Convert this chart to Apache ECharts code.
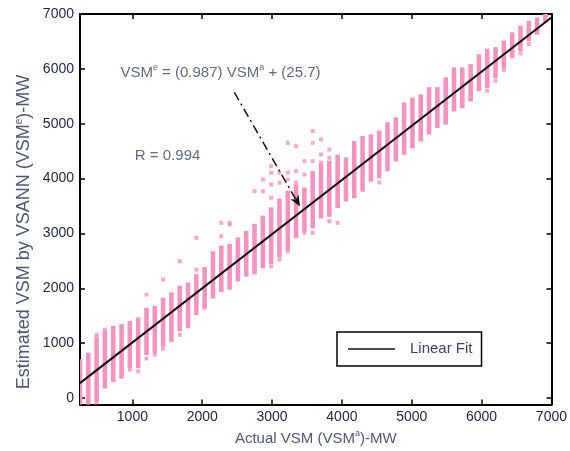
<!DOCTYPE html>
<html>
<head>
<meta charset="utf-8">
<script src="https://cdn.jsdelivr.net/npm/echarts@6/dist/echarts.min.js"></script>
<style>
html,body{margin:0;padding:0;background:#fff;}
#chart{width:570px;height:451px;}
</style>
</head>
<body>
<div id="chart"></div>
<script>
// ---- data ----
// x positions of the columns of points (Actual VSM, MW)
const colX = [250, 369, 488, 607, 726, 845, 964, 1083, 1202, 1321, 1440, 1559, 1678, 1797, 1916, 2035, 2154, 2273, 2392, 2511,
  2630, 2749, 2868, 2987, 3106, 3225, 3344, 3463, 3582, 3701, 3820, 3939, 4058, 4177, 4296, 4415, 4534, 4653, 4772, 4891,
  5010, 5129, 5248, 5367, 5486, 5605, 5724, 5843, 5962, 6081, 6200, 6319, 6438, 6557, 6676, 6795, 6914];
// lower and upper ends of each dense column (Estimated VSM, MW)
const colLow = [-120, -90, -30, 210, 330, 390, 580, 580, 820, 850, 970, 1060, 1250, 1310, 1550, 1670, 1850, 1970, 2010, 2160,
  2250, 2290, 2400, 2480, 2600, 2720, 2950, 3070, 3130, 3310, 3340, 3500, 3620, 3680, 3800, 3980, 4040, 4170, 4350, 4470,
  4590, 4710, 4840, 4960, 5020, 5260, 5320, 5440, 5630, 5690, 5870, 6050, 6230, 6360, 6540, 6660, 6880];
const colHigh = [670, 790, 1060, 1190, 1280, 1310, 1370, 1430, 1610, 1640, 1790, 1890, 2010, 2070, 2220, 2350, 2640, 2740, 2770, 2890,
  3010, 3140, 3290, 3440, 3600, 3740, 3860, 3800, 4100, 4230, 4290, 4400, 4350, 4650, 4740, 4770, 4840, 4990, 5080, 5350,
  5440, 5500, 5630, 5630, 5810, 5990, 5990, 6050, 6230, 6330, 6360, 6480, 6630, 6750, 6840, 6900, 7000];
// isolated points outside the dense columns
const outX = [488, 488, 488, 607, 964, 1083, 1202, 1202, 1321, 1440, 1440, 1678, 1678, 1797, 1916, 1916, 2035,
  2273, 2273, 2392, 2392, 2749, 2868, 2868, 2987, 2987, 2987, 2987, 2987, 3106, 3106, 3106,
  3225, 3225, 3225, 3225, 3344, 3344, 3344, 3344, 3463, 3463, 3463, 3582, 3582, 3582, 3582,
  3701, 3701, 3701, 3820, 3820, 3820, 3939, 4534, 6081, 6200, 6319, 6557, 6676];
const outY = [1155, 1110, -80, 1246, 516, 486, 1885, 720, 790, 2159, 900, 2493, 1150, 1460, 2341, 2920, 1642,
  3193, 2949, 3193, 3162, 3770, 3984, 3770, 4226, 4106, 3892, 3650, 2400, 4106, 3923, 2524,
  3984, 4650, 4111, 2675, 4135, 4590, 3929, 3011, 4318, 4075, 3011, 4653, 4865, 4318, 3011,
  4440, 4713, 4288, 4380, 4530, 3223, 3193, 3930, 5600, 5780, 5980, 6280, 6453];
// linear fit VSMe = 0.987 VSMa + 25.7, end points
const fitX = [250, 7000];
const fitY = [272, 6935];
// annotation arrow (data coordinates)
const arrowFrom = [2460, 5570];
const arrowTo = [3400, 3490];
// text anchors (data coordinates)
const eqPos = [2261, 5936];
const rPos = [1504, 4422];
// tick labels
const xTicks = [1000, 2000, 3000, 4000, 5000, 6000, 7000];
const yTicks = [0, 1000, 2000, 3000, 4000, 5000, 6000, 7000];

const PINK = '#f593c0';
const TICK_COLOR = '#1c2440';
const TEXT_COLOR = '#3a4560';
const TITLE_COLOR = '#4d5873';
const FONT = 'Liberation Sans, Arial, sans-serif';

const chart = echarts.init(document.getElementById('chart'), null, {renderer: 'canvas'});

const supRich = {
  m: {fontSize: 15, lineHeight: 18, color: TEXT_COLOR, fontFamily: FONT},
  s: {fontSize: 9, lineHeight: 9, verticalAlign: 'top', color: TEXT_COLOR, fontFamily: FONT}
};
const titleRich = {
  m: {fontSize: 15, lineHeight: 18, color: TITLE_COLOR, fontFamily: FONT},
  s: {fontSize: 9, lineHeight: 9, verticalAlign: 'top', color: TITLE_COLOR, fontFamily: FONT}
};
const yTitleRich = {
  m: {fontSize: 18, lineHeight: 20, fill: TITLE_COLOR, fontFamily: FONT},
  s: {fontSize: 10, lineHeight: 10, verticalAlign: 'top', fill: TITLE_COLOR, fontFamily: FONT}
};

const axisCommon = {
  type: 'value',
  axisLine: {show: true, onZero: false, lineStyle: {color: '#000', width: 2}},
  splitLine: {show: false}
};
const plainLabel = v => String(v);

const option = {
  animation: false,
  backgroundColor: '#fff',
  grid: {left: 80, right: 17, top: 14, bottom: 46, containLabel: false},
  legend: {
    left: 337, top: 332,
    padding: [8, 9, 8, 11],
    itemWidth: 47, itemHeight: 1.5,
    borderColor: '#000', borderWidth: 1.5, backgroundColor: '#fff',
    textStyle: {fontSize: 15, color: TEXT_COLOR, fontFamily: FONT, padding: [0, 0, 0, 10], lineHeight: 18},
    data: [{name: 'Linear Fit', icon: 'rect', itemStyle: {color: '#111'}}]
  },
  graphic: [
    {
      type: 'text',
      x: 24, y: 232,
      rotation: Math.PI / 2,
      silent: true,
      style: {
        text: '{m|Estimated VSM by VSANN (VSM}{s|e}{m|)-MW}',
        rich: yTitleRich,
        fill: TITLE_COLOR,
        align: 'center', verticalAlign: 'middle'
      }
    }
  ],
  xAxis: [
    Object.assign({}, axisCommon, {
      min: 250, max: 7000, position: 'bottom',
      name: '{m|Actual VSM (VSM}{s|a}{m|)-MW}',
      nameLocation: 'middle', nameGap: 22,
      nameTextStyle: {rich: titleRich},
      axisTick: {inside: true, length: 5, lineStyle: {color: '#000', width: 1.5}, customValues: xTicks},
      axisLabel: {customValues: xTicks, formatter: plainLabel, margin: 6, fontSize: 14, color: TICK_COLOR, fontFamily: FONT}
    }),
    Object.assign({}, axisCommon, {
      min: 250, max: 7000, position: 'top',
      axisTick: {inside: true, length: 5, lineStyle: {color: '#000', width: 1.5}, customValues: xTicks},
      axisLabel: {show: false}
    })
  ],
  yAxis: [
    Object.assign({}, axisCommon, {
      min: -120, max: 7000, position: 'left',
      axisTick: {inside: true, length: 5, lineStyle: {color: '#000', width: 1.5}, customValues: yTicks},
      axisLabel: {customValues: yTicks, formatter: plainLabel, margin: 6, fontSize: 14, color: TICK_COLOR, fontFamily: FONT}
    }),
    Object.assign({}, axisCommon, {
      min: -120, max: 7000, position: 'right',
      axisTick: {inside: true, length: 5, lineStyle: {color: '#000', width: 1.5}, customValues: yTicks},
      axisLabel: {show: false}
    })
  ],
  series: [
    {
      type: 'custom',
      name: 'columns',
      xAxisIndex: 0, yAxisIndex: 0,
      data: colX.map((x, i) => [x, colLow[i], colHigh[i]]),
      renderItem: function (params, api) {
        const x = api.value(0);
        const top = api.coord([x, api.value(2)]);
        const bot = api.coord([x, api.value(1)]);
        const cs = params.coordSys;
        const y1 = Math.max(top[1] - 2, cs.y);
        const y2 = Math.min(bot[1] + 2, cs.y + cs.height);
        const x1 = Math.max(top[0] - 2.3, cs.x);
        const x2 = Math.min(top[0] + 2.3, cs.x + cs.width);
        return {
          type: 'rect',
          shape: {x: x1, y: y1, width: x2 - x1, height: y2 - y1},
          style: {fill: PINK}
        };
      },
      z: 2
    },
    {
      type: 'scatter',
      name: 'points',
      data: outX.map((x, i) => [x, outY[i]]),
      symbol: 'rect',
      symbolSize: 4,
      itemStyle: {color: PINK},
      z: 2
    },
    {
      type: 'line',
      name: 'Linear Fit',
      data: fitX.map((x, i) => [x, fitY[i]]),
      symbol: 'none',
      lineStyle: {color: '#111', width: 2},
      itemStyle: {color: '#111'},
      z: 5
    },
    {
      type: 'scatter',
      name: 'annotations',
      symbolSize: 0,
      data: [
        {value: eqPos, label: {show: true, position: 'inside', formatter: '{m|VSM}{s|e}{m| = (0.987) VSM}{s|a}{m| + (25.7)}', rich: supRich}},
        {value: rPos, label: {show: true, position: 'inside', formatter: '{m|R = 0.994}', rich: supRich}}
      ],
      silent: true,
      z: 6,
      markLine: {
        silent: true,
        symbol: ['none', 'arrow'],
        symbolSize: [7, 11],
        label: {show: false},
        lineStyle: {type: [9, 4, 2, 4], color: '#111', width: 1.5},
        data: [[{coord: arrowFrom}, {coord: arrowTo}]]
      }
    }
  ]
};
chart.setOption(option);
</script>
</body>
</html>
